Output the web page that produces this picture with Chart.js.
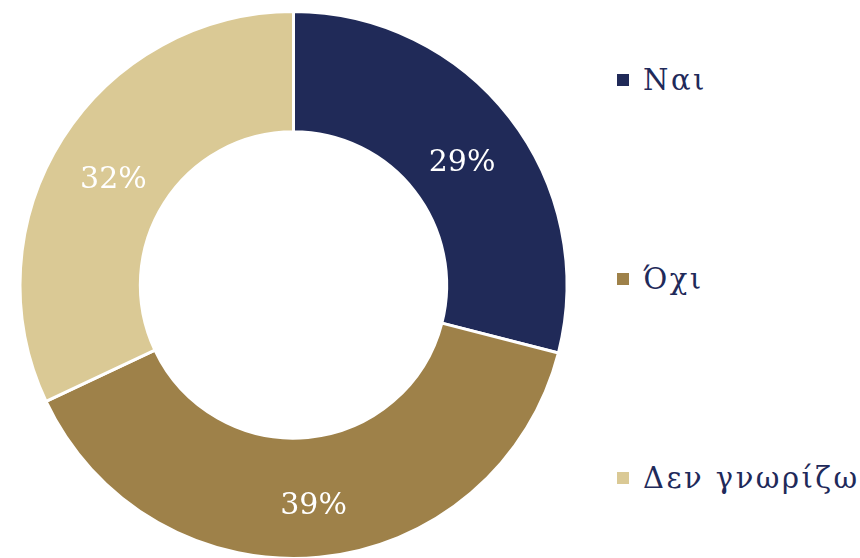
<!DOCTYPE html>
<html lang="el">
<head>
<meta charset="utf-8">
<title>Donut</title>
<script src="https://cdn.jsdelivr.net/npm/chart.js@4.4.1/dist/chart.umd.min.js"></script>
<style>
  html, body { margin: 0; padding: 0; background: #fff; }
  body { width: 860px; height: 558px; position: relative; overflow: hidden; }
  .chart-box { position: absolute; left: 0; top: 0; width: 587px; height: 560px; }
  .legend {
    position: absolute; left: 617px; top: 60px;
    display: flex; flex-direction: column; gap: 159px;
    font-family: "DejaVu Serif", serif; font-size: 29px; letter-spacing: 2.5px;
    color: #1f2a5a;
  }
  .legend-item { height: 40px; line-height: 40px; display: flex; align-items: center; white-space: nowrap; }
  .legend-box { width: 12px; height: 12px; margin-right: 14px; flex: none; }
</style>
</head>
<body>
<div class="chart-box"><canvas id="donut"></canvas></div>
<div class="legend" id="legend"></div>
<script>
// données
const categories = ['Ναι', 'Όχι', 'Δεν γνωρίζω'];
const values = [29, 39, 32];
const colors = ['#202a58', '#9e8149', '#dac995'];

// étiquettes en pourcentage au milieu des arcs
const pctLabels = {
    id: 'pctLabels',
    afterDatasetsDraw(chart) {
        const ctx = chart.ctx;
        const meta = chart.getDatasetMeta(0);
        ctx.save();
        ctx.font = '30px "DejaVu Serif"';
        ctx.fillStyle = '#ffffff';
        ctx.textAlign = 'center';
        ctx.textBaseline = 'alphabetic';
        meta.data.forEach((arc, i) => {
            const p = arc.getCenterPoint();
            ctx.fillText(values[i] + '%', p.x, p.y + 17);
        });
        ctx.restore();
    }
};

new Chart(document.getElementById('donut'), {
    type: 'doughnut',
    data: {
        labels: categories,
        datasets: [{
            data: values,
            backgroundColor: colors,
            borderColor: '#ffffff',
            borderWidth: 3,
            hoverOffset: 0
        }]
    },
    options: {
        responsive: true,
        maintainAspectRatio: false,
        animation: false,
        cutout: '56%',
        layout: { padding: { top: 10, bottom: 0, left: 0, right: 0 } },
        plugins: {
            legend: { display: false },
            tooltip: { enabled: false }
        }
    },
    plugins: [pctLabels]
});

// légende html
const legend = document.getElementById('legend');
categories.forEach((name, i) => {
    const item = document.createElement('div');
    item.className = 'legend-item';
    const box = document.createElement('span');
    box.className = 'legend-box';
    box.style.background = colors[i];
    const txt = document.createElement('span');
    txt.textContent = name;
    item.appendChild(box);
    item.appendChild(txt);
    legend.appendChild(item);
});
</script>
</body>
</html>
